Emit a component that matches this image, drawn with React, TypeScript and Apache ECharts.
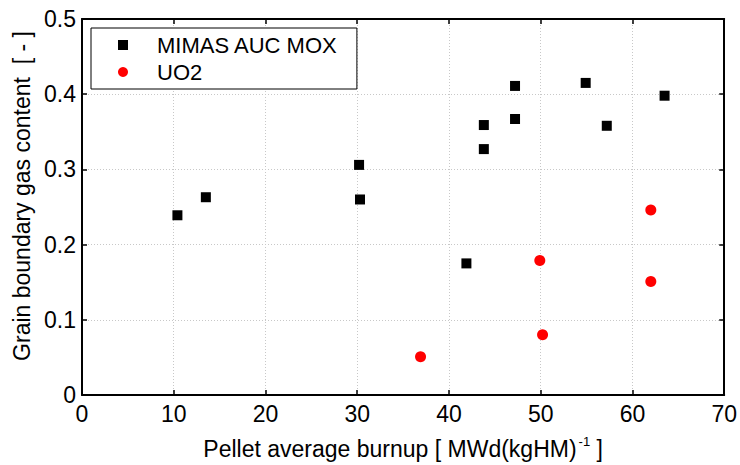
import React, { useEffect, useRef } from "react";
import * as echarts from "echarts";

const moxBurnup = [10.4, 13.5, 30.2, 30.3, 41.9, 43.8, 43.8, 47.2, 47.2, 54.9, 57.2, 63.5];
const moxGas = [0.239, 0.263, 0.306, 0.26, 0.175, 0.359, 0.327, 0.411, 0.367, 0.415, 0.358, 0.398];
const uo2Burnup = [36.9, 49.9, 50.2, 62.0, 62.0];
const uo2Gas = [0.051, 0.179, 0.08, 0.246, 0.151];

const xTicks = [0, 10, 20, 30, 40, 50, 60, 70];
const yTicks = [0, 0.1, 0.2, 0.3, 0.4, 0.5];

const FONT = "'Liberation Sans', Arial, Helvetica, sans-serif";

export default function App() {
  const ref = useRef<HTMLDivElement>(null);
  useEffect(() => {
    if (!ref.current) return;
    const chart = echarts.init(ref.current, undefined, { renderer: "svg" });
    const grid = { left: 82, right: 13, top: 19, bottom: 68 };
    const gridLine = { show: true, lineStyle: { color: "#c8c8c8", type: [1, 2] as any, width: 1 } };
    const axisLine = { show: true, onZero: false, lineStyle: { color: "#000", width: 2 } };
    const tick = { show: true, inside: true, length: 5, lineStyle: { color: "#000", width: 1.5 } };
    chart.setOption({
      animation: false,
      backgroundColor: "#fff",
      textStyle: { fontFamily: FONT },
      grid,
      legend: {
        orient: "vertical",
        left: 91,
        top: 28,
        backgroundColor: "#fff",
        borderColor: "#000",
        borderWidth: 1,
        borderRadius: 0,
        padding: [6, 19, 6, 27],
        itemWidth: 10,
        itemHeight: 10,
        itemGap: 5,
        textStyle: { fontSize: 22, color: "#000", fontFamily: FONT, padding: [0, 0, 0, 24] },
        data: [
          { name: "MIMAS AUC MOX", icon: "rect" },
          { name: "UO2", icon: "circle" },
        ],
      },
      xAxis: [
        {
          type: "value",
          min: xTicks[0],
          max: xTicks[xTicks.length - 1],
          interval: 10,
          position: "bottom",
          name: "{a|Pellet average burnup [ MWd(kgHM)}{s|-1}{a| ]}",
          nameLocation: "middle",
          nameGap: 40,
          nameTextStyle: {
            rich: {
              a: { fontSize: 23, color: "#000", fontFamily: FONT },
              s: { fontSize: 13, color: "#000", fontFamily: FONT, padding: [0, 0, 14, 2] },
            },
          },
          axisLine,
          axisTick: tick,
          splitLine: gridLine,
          axisLabel: { fontSize: 23, color: "#000", margin: 7, fontFamily: FONT },
        },
        {
          type: "value",
          min: xTicks[0],
          max: xTicks[xTicks.length - 1],
          interval: 10,
          position: "top",
          axisLine,
          axisTick: tick,
          splitLine: { show: false },
          axisLabel: { show: false },
        },
      ],
      yAxis: [
        {
          type: "value",
          min: yTicks[0],
          max: yTicks[yTicks.length - 1],
          interval: 0.1,
          position: "left",
          name: "Grain boundary gas content  [ - ]",
          nameLocation: "middle",
          nameGap: 49,
          nameTextStyle: { fontSize: 23, color: "#000", fontFamily: FONT, padding: [0, 0, 0, 22] },
          axisLine,
          axisTick: tick,
          splitLine: gridLine,
          axisLabel: { fontSize: 23, color: "#000", margin: 6, fontFamily: FONT },
        },
        {
          type: "value",
          min: yTicks[0],
          max: yTicks[yTicks.length - 1],
          interval: 0.1,
          position: "right",
          axisLine,
          axisTick: tick,
          splitLine: { show: false },
          axisLabel: { show: false },
        },
      ],
      series: [
        {
          name: "MIMAS AUC MOX",
          type: "scatter",
          symbol: "rect",
          symbolSize: 10,
          itemStyle: { color: "#000", opacity: 1 },
          data: moxBurnup.map((x, i) => [x, moxGas[i]]),
          z: 3,
        },
        {
          name: "UO2",
          type: "scatter",
          symbol: "circle",
          symbolSize: 11,
          itemStyle: { color: "#ff0000", opacity: 1 },
          data: uo2Burnup.map((x, i) => [x, uo2Gas[i]]),
          z: 3,
        },
      ],
    });
    return () => chart.dispose();
  }, []);
  return (
    <div
      ref={ref}
      style={{ position: "fixed", left: 0, top: 0, width: 740, height: 465, background: "#fff" }}
    />
  );
}
